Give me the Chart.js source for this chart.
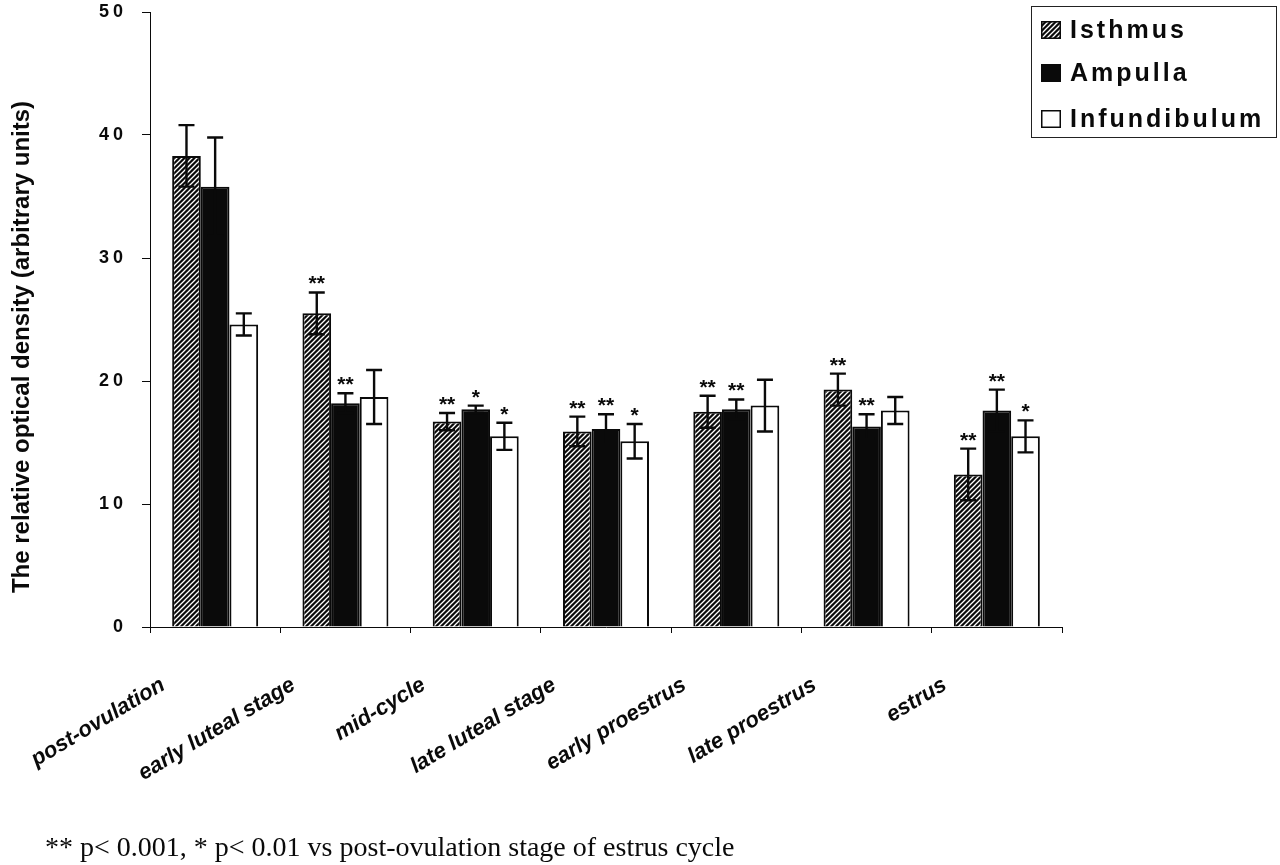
<!DOCTYPE html>
<html>
<head>
<meta charset="utf-8">
<script src="https://cdn.jsdelivr.net/npm/chart.js@4/dist/chart.umd.min.js"></script>
<style>
  html, body { margin: 0; padding: 0; background: #fff; }
  #wrap { width: 1280px; height: 865px; position: relative; }
</style>
</head>
<body>
<div id="wrap"><canvas id="c" width="1280" height="865"></canvas></div>
<script>
// ---- data ----
const categories = ['post-ovulation', 'early luteal stage', 'mid-cycle', 'late luteal stage', 'early proestrus', 'late proestrus', 'estrus'];
const seriesNames = ['Isthmus', 'Ampulla', 'Infundibulum'];
const isthmus      = [38.3, 25.5, 16.7, 15.9, 17.5, 19.3, 12.4];
const ampulla      = [35.8, 18.2, 17.7, 16.1, 17.7, 16.3, 17.6];
const infundibulum = [24.6, 18.7, 15.5, 15.1, 18.0, 17.6, 15.5];
const isthmusErr      = [2.5, 1.7, 0.7, 1.2, 1.3, 1.3, 2.1];
const ampullaErr      = [4.0, 0.8, 0.3, 1.2, 0.8, 1.0, 1.7];
const infundibulumErr = [0.9, 2.2, 1.1, 1.4, 2.1, 1.1, 1.3];
const isthmusSig      = ['', '**', '**', '**', '**', '**', '**'];
const ampullaSig      = ['', '**', '*', '**', '**', '**', '**'];
const infundibulumSig = ['', '', '*', '*', '', '', '*'];
const yTickValues = [0, 10, 20, 30, 40, 50];
const yTitle = 'The relative optical density (arbitrary units)';
const footnote = '** p< 0.001, * p< 0.01 vs post-ovulation stage of estrus cycle';

// ---- styles ----
const BLACK = '#0a0a0a';
function hatchPattern(ctx) {
  const c = document.createElement('canvas');
  c.width = 5; c.height = 5;
  const g = c.getContext('2d');
  g.fillStyle = BLACK; g.fillRect(0, 0, 5, 5);
  g.strokeStyle = '#ffffff'; g.lineWidth = 1.3;
  g.beginPath();
  g.moveTo(-1, 6); g.lineTo(6, -1);
  g.moveTo(-1, 1); g.lineTo(1, -1);
  g.moveTo(4, 6); g.lineTo(6, 4);
  g.stroke();
  return ctx.createPattern(c, 'repeat');
}
const canvas = document.getElementById('c');
const ctx0 = canvas.getContext('2d');
const hatch = hatchPattern(ctx0);
const fills = [hatch, BLACK, '#ffffff'];

const errorBarsPlugin = {
  id: 'errorBars',
  afterDatasetsDraw(chart) {
    const ctx = chart.ctx;
    const ys = chart.scales.y;
    chart.data.datasets.forEach((ds, di) => {
      const meta = chart.getDatasetMeta(di);
      meta.data.forEach((bar, i) => {
        const v = ds.data[i], e = ds.err[i];
        const x = bar.x;
        const yt = ys.getPixelForValue(v + e);
        const yb = ys.getPixelForValue(v - e);
        ctx.save();
        ctx.strokeStyle = BLACK;
        ctx.lineWidth = 2.4;
        ctx.beginPath();
        ctx.moveTo(x, yt); ctx.lineTo(x, yb);
        ctx.moveTo(x - 8, yt); ctx.lineTo(x + 8, yt);
        ctx.moveTo(x - 8, yb); ctx.lineTo(x + 8, yb);
        ctx.stroke();
        const s = ds.sig[i];
        if (s) {
          ctx.fillStyle = BLACK;
          ctx.font = 'bold 21px "Liberation Sans", Arial, sans-serif';
          ctx.textAlign = 'center';
          ctx.textBaseline = 'alphabetic';
          ctx.fillText(s, x, yt - 14 + 12);
        }
        ctx.restore();
      });
    });
  }
};

const decorPlugin = {
  id: 'decor',
  afterLayout(chart) {
    const s = chart.scales.y;
    if (s && !s.__ls) {
      s.__ls = true;
      const orig = s.drawLabels;
      s.drawLabels = function (a) {
        const c = this.ctx;
        const prev = c.letterSpacing;
        c.letterSpacing = '4px';
        orig.call(this, a);
        c.letterSpacing = prev || '0px';
      };
    }
  },
  afterDraw(chart) {
    const ctx = chart.ctx;
    ctx.save();
    // y axis title
    ctx.save();
    ctx.translate(22, 347);
    ctx.rotate(-Math.PI / 2);
    ctx.fillStyle = BLACK;
    ctx.font = 'bold 24px "Liberation Sans", Arial, sans-serif';
    ctx.textAlign = 'center';
    ctx.textBaseline = 'middle';
    ctx.fillText(yTitle, 0, 0);
    ctx.restore();
    // legend box
    ctx.strokeStyle = '#222';
    ctx.lineWidth = 1;
    ctx.strokeRect(1031.5, 6.5, 245, 131);
    const rows = [30, 73, 119];
    seriesNames.forEach((name, i) => {
      const yc = rows[i];
      ctx.fillStyle = fills[i];
      ctx.fillRect(1041, yc - 9, 20, 18);
      ctx.strokeStyle = BLACK;
      ctx.lineWidth = 1.5;
      ctx.strokeRect(1041.75, yc - 8.25, 18.5, 16.5);
      ctx.fillStyle = BLACK;
      ctx.font = 'bold 25px "Liberation Sans", Arial, sans-serif';
      ctx.letterSpacing = '3px';
      ctx.textAlign = 'left';
      ctx.textBaseline = 'middle';
      ctx.fillText(name, 1070, yc + 1);
      ctx.letterSpacing = '0px';
    });
    // footnote
    ctx.fillStyle = BLACK;
    ctx.font = '28px "Liberation Serif", "Times New Roman", serif';
    ctx.textAlign = 'left';
    ctx.textBaseline = 'alphabetic';
    ctx.fillText(footnote, 45, 856);
    ctx.restore();
  }
};

new Chart(canvas, {
  type: 'bar',
  data: {
    labels: categories,
    datasets: [
      { label: seriesNames[0], data: isthmus, err: isthmusErr, sig: isthmusSig, backgroundColor: fills[0], borderColor: BLACK, borderWidth: 2 },
      { label: seriesNames[1], data: ampulla, err: ampullaErr, sig: ampullaSig, backgroundColor: fills[1], borderColor: BLACK, borderWidth: 2 },
      { label: seriesNames[2], data: infundibulum, err: infundibulumErr, sig: infundibulumSig, backgroundColor: fills[2], borderColor: BLACK, borderWidth: 2 }
    ]
  },
  options: {
    responsive: false,
    animation: false,
    devicePixelRatio: 1,
    layout: { padding: { top: 12, right: 218, left: 0, bottom: 0 } },
    datasets: { bar: { categoryPercentage: 0.66, barPercentage: 1.0 } },
    plugins: { legend: { display: false }, tooltip: { enabled: false } },
    scales: {
      x: {
        grid: { display: true, drawOnChartArea: false, drawTicks: true, tickLength: 6, color: BLACK, offset: true },
        border: { display: true, color: BLACK, width: 1 },
        ticks: {
          autoSkip: false, minRotation: 31, maxRotation: 31,
          labelOffset: -52, padding: 39,
          color: BLACK,
          font: { family: '"Liberation Sans", Arial, sans-serif', size: 22, weight: 'bold', style: 'italic' }
        },
        afterFit(s) { s.height = 865 - 627; s.paddingLeft = 0; s.paddingRight = 0; }
      },
      y: {
        min: 0, max: 50,
        afterBuildTicks(s) { s.ticks = yTickValues.map(v => ({ value: v })); },
        grid: { display: true, drawOnChartArea: false, drawTicks: true, tickLength: 8, color: BLACK },
        border: { display: true, color: BLACK, width: 1 },
        ticks: {
          padding: 15, color: BLACK,
          font: { family: '"Liberation Sans", Arial, sans-serif', size: 18, weight: 'bold' }
        },
        title: { display: false },
        afterFit(s) { s.width = 150; s.paddingTop = 0; s.paddingBottom = 0; }
      }
    }
  },
  plugins: [errorBarsPlugin, decorPlugin]
});
</script>
</body>
</html>
